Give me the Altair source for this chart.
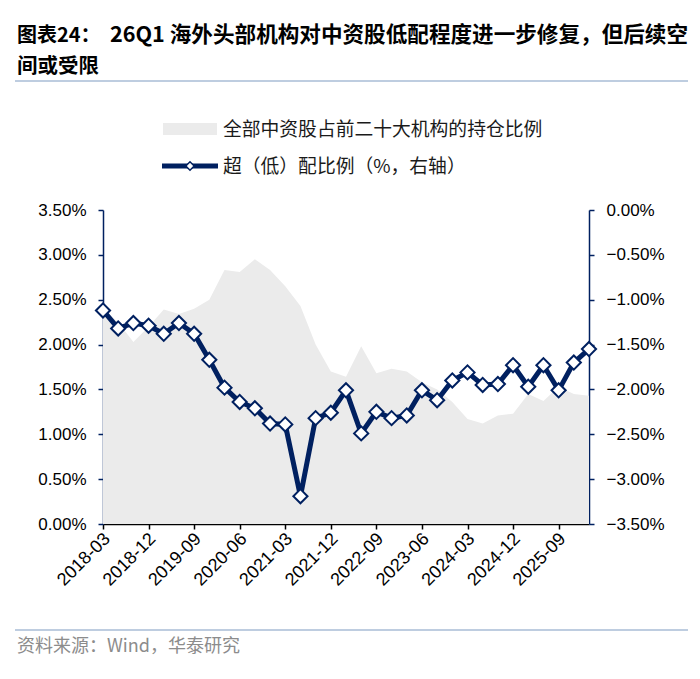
import altair as alt
import pandas as pd

quarters = [
    "2018-03", "2018-06", "2018-09", "2018-12",
    "2019-03", "2019-06", "2019-09", "2019-12",
    "2020-03", "2020-06", "2020-09", "2020-12",
    "2021-03", "2021-06", "2021-09", "2021-12",
    "2022-03", "2022-06", "2022-09", "2022-12",
    "2023-03", "2023-06", "2023-09", "2023-12",
    "2024-03", "2024-06", "2024-09", "2024-12",
    "2025-03", "2025-06", "2025-09", "2025-12",
    "2026-03",
]
# 全部中资股占前二十大机构的持仓比例 (%, left axis)
holding_share = [
    2.40, 2.25, 2.03, 2.20, 2.39, 2.34, 2.40, 2.50,
    2.83, 2.81, 2.95, 2.83, 2.65, 2.43, 2.00, 1.70,
    1.64, 1.98, 1.68, 1.73, 1.70, 1.58, 1.50, 1.36,
    1.17, 1.12, 1.21, 1.23, 1.45, 1.37, 1.53, 1.45,
    1.43,
]
# 超（低）配比例 (%, right axis)
over_under = [
    -1.12, -1.32, -1.26, -1.29, -1.38, -1.26, -1.38, -1.67,
    -1.98, -2.14, -2.21, -2.38, -2.39, -3.19, -2.32, -2.26,
    -2.01, -2.49, -2.25, -2.32, -2.29, -2.01, -2.12, -1.90,
    -1.81, -1.95, -1.94, -1.73, -1.97, -1.73, -2.01, -1.70,
    -1.55,
]
tick_labels = ["2018-03", "2018-12", "2019-09", "2020-06", "2021-03", "2021-12",
               "2022-09", "2023-06", "2024-03", "2024-12", "2025-09"]
left_ticks = [0, 0.5, 1.0, 1.5, 2.0, 2.5, 3.0, 3.5]
right_ticks = [-3.5, -3.0, -2.5, -2.0, -1.5, -1.0, -0.5, 0]

title_1a = "图表24："
title_1b = "26Q1 海外头部机构对中资股低配程度进一步修复，但后续空"
title_2 = "间或受限"
legend_area = "全部中资股占前二十大机构的持仓比例"
legend_line = "超（低）配比例（%，右轴）"
source_text = "资料来源：Wind，华泰研究"

NAVY = "#002060"
AREA = "#ebebeb"
CJK = "Noto Sans CJK SC"
LAT = "Liberation Sans"

df = pd.DataFrame({"q": quarters, "share": holding_share, "ratio": over_under})

x_enc = alt.X(
    "q:O", sort=quarters,
    scale=alt.Scale(type="point", padding=0),
    axis=alt.Axis(values=tick_labels, labelAngle=-45, labelAlign="right",
                  labelBaseline="middle", labelFontSize=18, labelFont=LAT,
                  labelColor="black", labelPadding=7, labelOffset=4,
                  domainColor="black", tickColor="black", domainWidth=1.5,
                  tickWidth=1.5, tickSize=5, title=None, grid=False),
)

area = alt.Chart(df).mark_area(color=AREA).encode(
    x=x_enc,
    y=alt.Y("share:Q", scale=alt.Scale(domain=[0, 3.5], nice=False),
            axis=alt.Axis(orient="left", values=left_ticks,
                          labelExpr="format(datum.value, '.2f') + '%'",
                          labelFontSize=17, labelFont=LAT, labelColor="black",
                          labelPadding=12, domainColor=NAVY, tickColor=NAVY,
                          domainWidth=1.5, tickWidth=1.5, tickSize=5,
                          title=None, grid=False)),
)

line = alt.Chart(df).mark_line(
    color=NAVY, strokeWidth=5,
    point=alt.OverlayMarkDef(shape="diamond", filled=True, fill="white",
                             stroke=NAVY, strokeWidth=2, size=200, opacity=1),
).encode(
    x=alt.X("q:O", sort=quarters, scale=alt.Scale(type="point", padding=0)),
    y=alt.Y("ratio:Q", scale=alt.Scale(domain=[-3.5, 0], nice=False, zero=False),
            axis=alt.Axis(orient="right", values=right_ticks,
                          labelExpr="format(datum.value, '.2f') + '%'",
                          labelFontSize=17, labelFont=LAT, labelColor="black",
                          labelPadding=12, domainColor=NAVY, tickColor=NAVY,
                          domainWidth=1.5, tickWidth=1.5, tickSize=5,
                          title=None, grid=False)),
)


def txt(s, x, y, size, color="black", weight="normal", font=CJK):
    return alt.Chart(pd.DataFrame({"t": [s]})).mark_text(
        align="left", baseline="middle", fontSize=size, font=font,
        fontWeight=weight, color=color,
    ).encode(text="t:N", x=alt.value(x), y=alt.value(y))


def hline(x1, x2, y, color, width):
    return alt.Chart(pd.DataFrame({"a": [0]})).mark_rule(
        color=color, strokeWidth=width
    ).encode(x=alt.value(x1), x2=alt.value(x2), y=alt.value(y))


t1a = txt(title_1a, -86, -174, 20, weight="bold")
t1b = txt(title_1b, 7, -174, 21.6, weight="bold")
t2 = txt(title_2, -86, -143, 20.5, weight="bold")
sep_top = hline(-88, 585, -129, "#a9bcd6", 1.5)

leg_rect = alt.Chart(pd.DataFrame({"a": [0]})).mark_rect(color=AREA).encode(
    x=alt.value(60), x2=alt.value(114), y=alt.value(-87), y2=alt.value(-75))
leg_t1 = txt(legend_area, 120, -80, 18.8, color="#1a1a1a")
leg_line = hline(59, 115, -44, NAVY, 5)
leg_pt = alt.Chart(pd.DataFrame({"a": [0]})).mark_point(
    shape="diamond", filled=True, fill="white", stroke=NAVY, strokeWidth=1.5,
    size=70, opacity=1).encode(x=alt.value(87), y=alt.value(-44))
leg_t2 = txt(legend_line, 120, -43, 18.8, color="#1a1a1a")

sep_bot = hline(-88, 585, 420, "#a9bcd6", 1.5)
src = txt(source_text, -86, 437, 18, color="#8c8c8c")

chart = alt.layer(
    area, line, t1a, t1b, t2, sep_top, leg_rect, leg_t1, leg_line, leg_pt, leg_t2,
    sep_bot, src,
).resolve_scale(y="independent").properties(
    width=486, height=314,
    autosize=alt.AutoSizeParams(type="none"),
    padding={"left": 95, "top": 202, "right": 103, "bottom": 145},
).configure_view(stroke=None)

chart.save("out.html", embed_options={"renderer": "svg", "actions": False})
